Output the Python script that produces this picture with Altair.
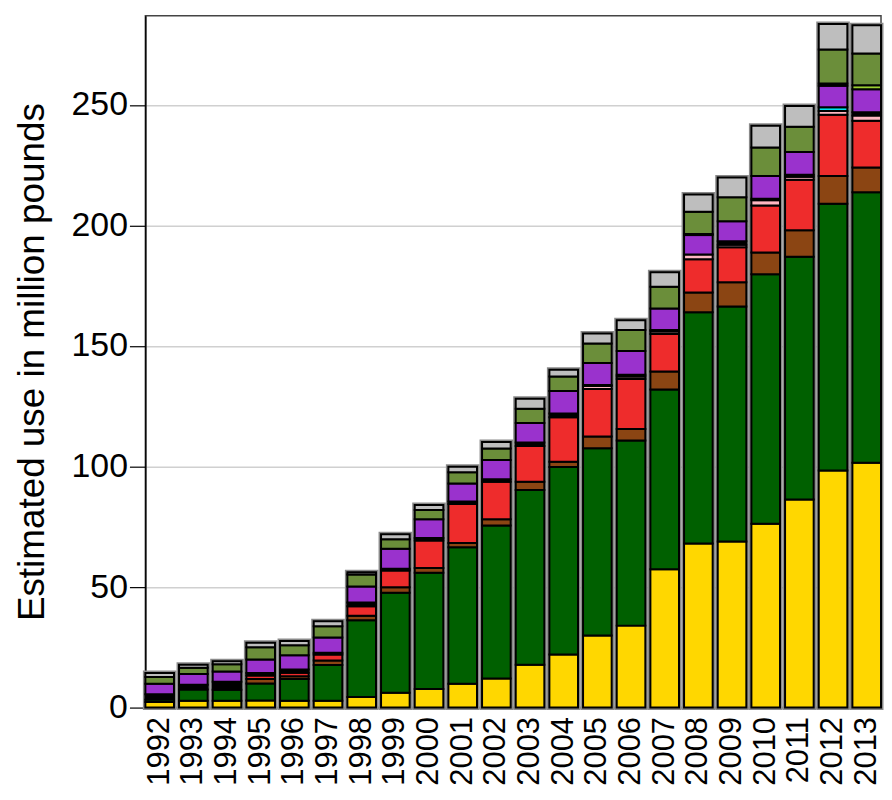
import altair as alt
import pandas as pd

years = [str(y) for y in range(1992, 2014)]

yellow = [2.3, 2.8, 2.8, 2.9, 2.8, 2.8, 4.4, 6.2, 7.7, 9.9, 12.1, 17.8, 22.0, 29.9, 34.0, 57.4, 68.1, 68.9, 76.3, 86.3, 98.4, 101.6]
green = [1.0, 4.7, 4.6, 7.1, 9.1, 14.9, 31.8, 41.4, 48.2, 56.6, 63.4, 72.5, 77.8, 77.7, 76.8, 74.6, 95.9, 97.5, 103.5, 100.7, 110.6, 112.2]
brown = [0, 0, 0, 1.9, 1.1, 1.8, 1.9, 2.3, 2.0, 1.8, 2.6, 3.4, 2.2, 4.9, 4.8, 7.4, 8.2, 10.0, 9.0, 11.0, 11.5, 10.2]
red = [0, 0, 0, 1.4, 1.5, 2.5, 3.9, 7.0, 11.4, 16.2, 15.6, 14.8, 18.4, 19.7, 20.7, 15.6, 13.8, 14.6, 19.5, 21.0, 25.4, 19.4]
pink = [0, 0, 0, 0, 0, 0, 0, 0, 0, 0, 0, 0, 0, 1.2, 1.0, 1.0, 2.0, 1.0, 2.2, 1.2, 1.6, 2.2]
black = [2.2, 2.0, 3.3, 1.0, 1.3, 0.7, 1.6, 0.7, 1.0, 1.0, 1.0, 1.5, 1.6, 0.4, 0.8, 0.6, 0, 1.5, 0.6, 0.8, 0, 1.4]
cyan = [0, 0, 0, 0, 0, 0, 0, 0, 0, 0, 0, 0, 0, 0, 0, 0, 0, 0, 0, 0, 1.5, 0]
purple = [4.4, 4.4, 4.3, 5.6, 5.9, 6.4, 6.6, 8.3, 7.8, 7.5, 8.0, 8.1, 9.3, 9.1, 9.8, 9.0, 8.0, 8.2, 9.4, 9.5, 9.0, 9.5]
black2 = [0, 0, 0, 0, 0, 0, 0, 0, 0, 0, 0, 0, 0, 0, 0, 0, 0.5, 0, 0, 0, 0.9, 0]
yellowgreen = [0, 0, 0, 0, 0, 0, 0, 0, 0, 0, 0, 0, 0, 0, 0, 0, 0, 0, 0, 0, 0, 1.7]
olive = [2.8, 2.6, 3.0, 5.1, 4.2, 4.6, 5.0, 3.9, 3.9, 4.6, 4.8, 5.9, 6.0, 8.1, 8.7, 9.0, 9.2, 10.0, 11.8, 10.5, 14.1, 13.1]
gray = [1.6, 1.3, 1.2, 1.9, 1.7, 2.1, 0.9, 2.1, 2.0, 2.3, 2.7, 4.1, 2.8, 4.2, 4.1, 6.0, 7.1, 8.2, 9.1, 8.6, 10.6, 11.8]

series_names = ["s01", "s02", "s03", "s04", "s05", "s06", "s07", "s08", "s09", "s10", "s11", "s12"]
series_values = [yellow, green, brown, red, pink, black, cyan, purple, black2, yellowgreen, olive, gray]
series_colors = ["#FFD700", "#006000", "#8B4513", "#EE2C2C", "#FFB6C1", "#000000",
                 "#00E5EE", "#9A32CD", "#000000", "#9ACD32", "#6B8E3A", "#BEBEBE"]

rows = []
for k, (name, vals) in enumerate(zip(series_names, series_values)):
    for y, v in zip(years, vals):
        if v > 0:
            rows.append({"year": y, "series": name, "k": k, "value": v})
df = pd.DataFrame(rows)

tot = pd.DataFrame({"year": years,
                    "total": [sum(s[i] for s in series_values) for i in range(len(years))]})

xscale = alt.Scale(paddingInner=0.15, paddingOuter=0)
yscale = alt.Scale(domain=[0, 287], nice=False, zero=True)

xaxis = alt.Axis(labelAngle=270, labelFont="Liberation Sans", labelFontSize=31,
                 labelColor="black", ticks=False, tickSize=0, labelPadding=9,
                 domainColor="#888888", domainWidth=1.5, title=None, grid=False)
yaxis = alt.Axis(values=[0, 50, 100, 150, 200, 250], labelFont="Liberation Sans",
                 labelFontSize=34, labelColor="black", tickColor="black", tickSize=16,
                 tickWidth=1.2, labelPadding=2, domainColor="black", domainWidth=1.5,
                 title="Estimated use in million pounds", titleFont="Liberation Sans",
                 titleFontSize=37, titleFontWeight="normal", titleColor="black",
                 titlePadding=20, grid=True, gridColor="#d0d0d0", gridWidth=1.5)

halo = alt.Chart(tot).mark_bar(fill=None, stroke="#8a8a8a", strokeWidth=5).encode(
    x=alt.X("year:N", scale=xscale, axis=xaxis),
    y=alt.Y("total:Q", scale=yscale, axis=yaxis),
)

bars = alt.Chart(df).mark_bar(stroke="black", strokeWidth=2).encode(
    x=alt.X("year:N", scale=xscale, axis=xaxis),
    y=alt.Y("value:Q", stack="zero", scale=yscale, axis=yaxis),
    color=alt.Color("series:N", scale=alt.Scale(domain=series_names, range=series_colors),
                    legend=None),
    order=alt.Order("k:Q", sort="ascending"),
)

chart = alt.layer(halo, bars).properties(
    width=739, height=695,
    padding={"left": 5, "top": 6, "right": 0, "bottom": 0},
    background="white",
).configure_view(stroke="#444444", strokeWidth=1.5)

chart.save("out.html", embed_options={"renderer": "svg", "actions": False})
